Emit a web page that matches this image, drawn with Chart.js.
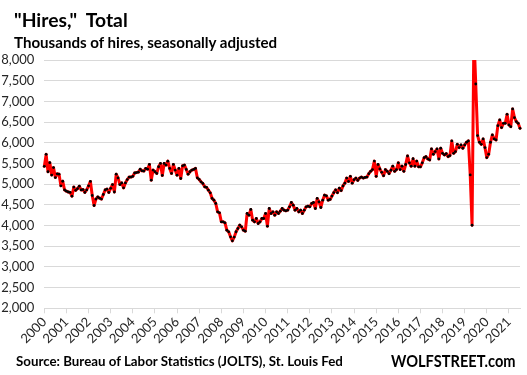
<!DOCTYPE html>
<html>
<head>
<meta charset="utf-8">
<script src="https://cdn.jsdelivr.net/npm/chart.js@4.4.1/dist/chart.umd.min.js"></script>
<style>
  html, body { margin: 0; padding: 0; background: #fff; }
  #wrap { position: relative; width: 527px; height: 375px; overflow: hidden; }
  canvas { position: absolute; left: 0; top: 0; }
  .txt { position: absolute; white-space: nowrap; line-height: 1; font-family: Lato, "Noto Sans", sans-serif; font-weight: 700; color: #000; transform-origin: 0 0; }
  #title { left: 14px; top: 9.5px; font-size: 19.3px; }
  #subtitle { left: 14px; top: 34.5px; font-size: 15.1px; }
  #source { left: 16px; top: 354.5px; font-size: 13.3px; }
  #brand { left: 391px; top: 352px; font-size: 17px; transform: scaleX(0.86); }
</style>
</head>
<body>
<div id="wrap">
  <canvas id="c" width="527" height="375"></canvas>
  <div class="txt" id="title">"Hires,"&nbsp; Total</div>
  <div class="txt" id="subtitle">Thousands of hires, seasonally adjusted</div>
  <div class="txt" id="source">Source: Bureau of Labor Statistics (JOLTS), St. Louis Fed</div>
  <div class="txt" id="brand">WOLFSTREET.com</div>
</div>
<script>
// Monthly series starts December 2000; one tick per year (every 12 months)
const startYear = 2000;
const startMonth = 12;
const yearLabels = ["2000","2001","2002","2003","2004","2005","2006","2007","2008","2009","2010",
  "2011","2012","2013","2014","2015","2016","2017","2018","2019","2020","2021"];
const yTicks = [2000, 2500, 3000, 3500, 4000, 4500, 5000, 5500, 6000, 6500, 7000, 7500, 8000];

// Hires, thousands, seasonally adjusted
const hires = [
  5430, 5720, 5300, 5520, 5220, 5400, 5160, 5250, 5240, 4960, 5070, 4860,
  4830, 4810, 4800, 4710, 4930, 4850, 4890, 4950, 4860, 4870, 4800, 4860,
  4960, 5065, 4726, 4484, 4640, 4690, 4660, 4640, 4750, 4860, 4880, 4800,
  4900, 4990, 4810, 5240, 5150, 4990, 5030, 4910, 5030, 5110, 5170, 5170,
  5190, 5270, 5280, 5290, 5360, 5323, 5315, 5380, 5363, 5476, 5097, 5340,
  5300, 5258, 5420, 5500, 5210, 5500, 5460, 5556, 5380, 5258, 5476, 5340,
  5218, 5380, 5137, 5444, 5460, 5355, 5242, 5300, 5340, 5355, 5380, 5153,
  5113, 5057, 5016, 4936, 4920, 4855, 4790, 4654, 4613, 4533, 4331, 4307,
  4090, 4090, 4066, 3888, 3848, 3727, 3630, 3720, 3850, 3928, 4009, 3969,
  3888, 3864, 4291, 4251, 4388, 4130, 4090, 4170, 4049, 4090, 4170, 4170,
  4291, 3985, 4412, 4291, 4331, 4251, 4331, 4291, 4347, 4412, 4372, 4356,
  4372, 4452, 4557, 4493, 4372, 4412, 4331, 4372, 4291, 4372, 4452, 4468,
  4452, 4533, 4557, 4412, 4654, 4573, 4436, 4613, 4734, 4718, 4613, 4630,
  4712, 4794, 4860, 4794, 4901, 4844, 4958, 5024, 5147, 5065, 5188, 5024,
  5106, 5147, 5090, 5147, 5172, 5147, 5163, 5172, 5254, 5311, 5352, 5557,
  5188, 5475, 5368, 5286, 5204, 5352, 5311, 5254, 5336, 5434, 5311, 5352,
  5516, 5352, 5434, 5311, 5475, 5680, 5516, 5434, 5614, 5434, 5557, 5418,
  5418, 5516, 5639, 5664, 5609, 5585, 5850, 5722, 5786, 5850, 5609, 5867,
  5746, 5706, 5738, 5666, 5690, 6044, 5746, 5786, 5963, 5883, 5947, 5867,
  5947, 6012, 6044, 5223, 4007, 8600, 7420, 6173, 6012, 5963, 6092, 5883,
  5641, 5722, 6012, 6189, 6092, 6068, 6414, 6551, 6366, 6470, 6470, 6688,
  6430, 6390, 6817, 6607, 6511, 6470, 6350
];

const points = hires.map((v, i) => ({ x: i, y: v }));
const lastIndex = hires.length - 1;

new Chart(document.getElementById('c'), {
  type: 'line',
  data: {
    datasets: [{
      data: points,
      borderColor: '#ff0000',
      borderWidth: 3,
      borderJoinStyle: 'round',
      borderCapStyle: 'round',
      tension: 0,
      pointRadius: 1.4,
      pointHoverRadius: 1.4,
      pointBackgroundColor: '#000',
      pointBorderWidth: 0,
      clip: { left: 4, right: 4, top: 0, bottom: 4 }
    }]
  },
  options: {
    responsive: false,
    animation: false,
    devicePixelRatio: 1,
    layout: { padding: { top: 60, right: 7, bottom: 0, left: 0 } },
    plugins: { legend: { display: false }, tooltip: { enabled: false }, title: { display: false } },
    scales: {
      x: {
        type: 'linear',
        min: 0,
        max: lastIndex,
        afterBuildTicks: (s) => { s.ticks = yearLabels.map((_, k) => ({ value: k * 12 })); },
        afterFit: (s) => { s.height = 375 - 308.3; },
        grid: { drawOnChartArea: false, drawTicks: true, tickLength: 5, color: '#d9d9d9', lineWidth: 1 },
        border: { display: true, color: '#d9d9d9', width: 1 },
        ticks: {
          autoSkip: false,
          maxRotation: 45,
          minRotation: 45,
          padding: 1,
          color: '#262626',
          font: { family: 'Lato, "Noto Sans", sans-serif', size: 13 },
          callback: (v) => yearLabels[Math.round(v / 12)]
        }
      },
      y: {
        min: 2000,
        max: 8000,
        afterBuildTicks: (s) => { s.ticks = yTicks.map(v => ({ value: v })); },
        afterFit: (s) => { s.width = 44.3; },
        grid: { color: '#d9d9d9', lineWidth: 1, drawTicks: false },
        border: { display: false },
        ticks: {
          padding: 10,
          color: '#262626',
          font: { family: 'Lato, "Noto Sans", sans-serif', size: 13 },
          callback: (v) => v.toLocaleString('en-US')
        }
      }
    }
  }
});
</script>
</body>
</html>
